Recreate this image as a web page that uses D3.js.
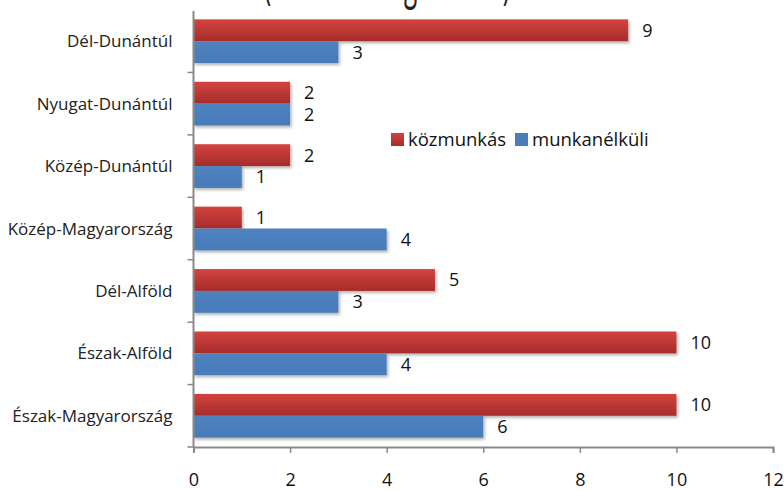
<!DOCTYPE html>
<html>
<head>
<meta charset="utf-8">
<script src="https://cdn.jsdelivr.net/npm/d3@7"></script>
<style>
  body { margin: 0; background: #fff; }
  svg { display: block; font-family: 'Open Sans', sans-serif; }
</style>
</head>
<body>
<svg id="chart" width="784" height="490"></svg>
<script>
const regions = ['Dél-Dunántúl', 'Nyugat-Dunántúl', 'Közép-Dunántúl', 'Közép-Magyarország', 'Dél-Alföld', 'Észak-Alföld', 'Észak-Magyarország']
const kozmunkas = [9, 2, 2, 1, 5, 10, 10]
const munkanelkuli = [3, 2, 1, 4, 3, 4, 6]
const seriesNames = ['közmunkás', 'munkanélküli']
const xTicks = [0, 2, 4, 6, 8, 10, 12]
const titleText = '(összesen régiónként)'

const blue = '#4a7ebb'
const axisColor = '#898989'

const margin = { top: 10, right: 11, bottom: 43, left: 193.5 }
const width = 784
const height = 490

const svg = d3.select('#chart')

const defs = svg.append('defs')
const grad = defs.append('linearGradient')
  .attr('id', 'redGrad')
  .attr('x1', 0).attr('y1', 0).attr('x2', 0).attr('y2', 1)
grad.append('stop').attr('offset', '0%').attr('stop-color', '#d4433f')
grad.append('stop').attr('offset', '100%').attr('stop-color', '#a52c2b')

const blueGrad = defs.append('linearGradient')
  .attr('id', 'blueGrad')
  .attr('x1', 0).attr('y1', 0).attr('x2', 0).attr('y2', 1)
blueGrad.append('stop').attr('offset', '0%').attr('stop-color', '#4f83c0')
blueGrad.append('stop').attr('offset', '100%').attr('stop-color', '#477ab8')

const shadow = defs.append('filter')
  .attr('id', 'shadow')
  .attr('x', '-5%').attr('y', '-20%').attr('width', '110%').attr('height', '150%')
shadow.append('feDropShadow')
  .attr('dx', 1.5).attr('dy', 2).attr('stdDeviation', 1.5)
  .attr('flood-color', '#000').attr('flood-opacity', 0.3)

// title sits mostly above the visible area, only descenders show
svg.append('text')
  .attr('x', 387)
  .attr('y', -2)
  .attr('text-anchor', 'middle')
  .attr('font-size', 50)
  .attr('textLength', 246)
  .attr('lengthAdjust', 'spacingAndGlyphs')
  .attr('fill', '#222')
  .text(titleText)

const x = d3.scaleLinear()
  .domain([0, 12])
  .range([margin.left, width - margin.right])

const y = d3.scaleBand()
  .domain(regions)
  .range([margin.top, height - margin.bottom])
  .paddingInner(0.3)
  .paddingOuter(0.15)

const sub = d3.scaleBand()
  .domain(seriesNames)
  .range([0, y.bandwidth()])

const rows = regions.map((r, i) => ({ region: r, values: [kozmunkas[i], munkanelkuli[i]] }))

const group = svg.selectAll('g.row')
  .data(rows)
  .enter().append('g')
  .attr('class', 'row')
  .attr('transform', (d) => `translate(0,${y(d.region)})`)

const bars = group.selectAll('g.bar')
  .data((d) => d.values.map((v, j) => ({ name: seriesNames[j], value: v })))
  .enter().append('g')
  .attr('class', 'bar')

bars.append('rect')
  .attr('x', x(0))
  .attr('y', (d) => sub(d.name))
  .attr('width', (d) => x(d.value) - x(0))
  .attr('height', sub.bandwidth())
  .attr('fill', (d) => d.name === seriesNames[0] ? 'url(#redGrad)' : 'url(#blueGrad)')
  .attr('filter', 'url(#shadow)')

bars.append('text')
  .attr('x', (d) => x(d.value) + 14)
  .attr('y', (d) => sub(d.name) + sub.bandwidth() / 2)
  .attr('dy', '0.36em')
  .attr('font-size', 18)
  .attr('fill', '#111')
  .text((d) => d.value)

// y axis
const yAxisG = svg.append('g')
  .attr('transform', `translate(${x(0)},0)`)
yAxisG.append('line')
  .attr('y1', margin.top + 1)
  .attr('y2', height - margin.bottom)
  .attr('stroke', axisColor)
  .attr('stroke-width', 2)
const step = y.step()
const boundaries = regions.map((r, i) => margin.top + step * (i + 1))
yAxisG.selectAll('line.tick')
  .data(boundaries)
  .enter().append('line')
  .attr('class', 'tick')
  .attr('x1', -6).attr('x2', 0)
  .attr('y1', (d) => d).attr('y2', (d) => d)
  .attr('stroke', axisColor)
  .attr('stroke-width', 1.5)
yAxisG.selectAll('text')
  .data(regions)
  .enter().append('text')
  .attr('x', -21)
  .attr('y', (d) => y(d) + y.bandwidth() / 2)
  .attr('dy', '0.36em')
  .attr('text-anchor', 'end')
  .attr('font-size', 17)
  .attr('fill', '#222')
  .text((d) => d)

// x axis
const xAxis = d3.axisBottom(x)
  .tickValues(xTicks)
  .tickSize(6)
  .tickPadding(20)
  .tickFormat(d3.format('d'))

const xAxisG = svg.append('g')
  .attr('transform', `translate(0,${height - margin.bottom})`)
  .call(xAxis)
xAxisG.select('.domain')
  .attr('stroke', axisColor)
  .attr('stroke-width', 2)
xAxisG.selectAll('.tick line')
  .attr('stroke', axisColor)
  .attr('stroke-width', 1.5)
xAxisG.selectAll('.tick text')
  .attr('font-family', 'Open Sans, sans-serif')
  .attr('font-size', 18)
  .attr('fill', '#111')

// legend
const legend = svg.append('g')
  .attr('transform', 'translate(391,133)')
const legendX = [0, 124]
seriesNames.forEach((name, i) => {
  const item = legend.append('g').attr('transform', `translate(${legendX[i]},0)`)
  item.append('rect')
    .attr('width', 13).attr('height', 13)
    .attr('fill', i === 0 ? 'url(#redGrad)' : blue)
  item.append('text')
    .attr('x', 17)
    .attr('y', 6.5)
    .attr('dy', '0.36em')
    .attr('font-size', 18.5)
    .attr('fill', '#111')
    .text(name)
})
</script>
</body>
</html>
